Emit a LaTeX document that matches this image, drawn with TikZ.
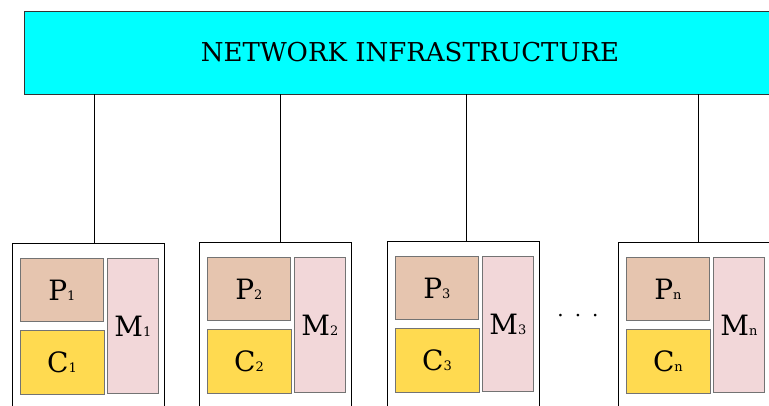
\documentclass[tikz,border=0pt]{standalone}
\usepackage{fontspec}
\setmainfont{DejaVu Serif}
\usepackage{xcolor}
\usepackage{tikz}
\usetikzlibrary{positioning}
\definecolor{netcyan}{RGB}{0,255,255}
\definecolor{procfill}{RGB}{230,197,175}
\definecolor{cachefill}{RGB}{255,218,80}
\definecolor{memfill}{RGB}{242,215,217}
\tikzset{node distance=8pt,
         netbox/.style={draw=black!80, line width=0.8pt, fill=netcyan, minimum width=772pt, minimum height=83pt, font=\fontsize{26}{30}\selectfont},
         hostbox/.style={draw, line width=1pt, minimum width=152pt, minimum height=175pt, anchor=north west},
         unit/.style={draw=black!55, line width=0.9pt, inner sep=0pt, font=\fontsize{28}{32}\selectfont},
         proc/.style={unit, fill=procfill, minimum width=83pt, minimum height=63pt},
         cache/.style={unit, fill=cachefill, minimum width=84pt, minimum height=64pt},
         mem/.style={unit, fill=memfill, minimum width=51pt, minimum height=135pt},
         link/.style={draw, line width=1pt},
         }
\newcommand{\lbl}[1]{{\fontsize{13}{13}\selectfont #1}}

\begin{document}
\begin{tikzpicture}[x=1pt, y=-1pt]
    \clip (0,0) rectangle (769,405);
    \node[netbox] (net) at (410,52.5) {NETWORK INFRASTRUCTURE};

    \node[hostbox] (h1) at (12,243) {};
    \node[proc, below right=15pt and 8pt of h1.north west] (p1) {P\lbl{1}};
    \node[cache, below=8pt of p1] (c1) {C\lbl{1}};
    \node[mem, right=3pt of p1.north east, anchor=north west] (m1) {M\lbl{1}};

    \node[hostbox] (h2) at (199,242) {};
    \node[proc, below right=15pt and 8pt of h2.north west] (p2) {P\lbl{2}};
    \node[cache, below=8pt of p2] (c2) {C\lbl{2}};
    \node[mem, right=3pt of p2.north east, anchor=north west] (m2) {M\lbl{2}};

    \node[hostbox] (h3) at (387,241) {};
    \node[proc, below right=15pt and 8pt of h3.north west] (p3) {P\lbl{3}};
    \node[cache, below=8pt of p3] (c3) {C\lbl{3}};
    \node[mem, right=3pt of p3.north east, anchor=north west] (m3) {M\lbl{3}};

    \node[font=\fontsize{20}{20}\selectfont] (dots) at (578,318) {·\hspace{11pt}·\hspace{11pt}·};

    \node[hostbox] (h4) at (618,242) {};
    \node[proc, below right=15pt and 8pt of h4.north west] (p4) {P\lbl{n}};
    \node[cache, below=8pt of p4] (c4) {C\lbl{n}};
    \node[mem, right=3pt of p4.north east, anchor=north west] (m4) {M\lbl{n}};

    \draw[link] ([xshift=6pt]h1.north) -- ([xshift=6pt]h1.north |- net.south);
    \draw[link] ([xshift=5pt]h2.north) -- ([xshift=5pt]h2.north |- net.south);
    \draw[link] ([xshift=3pt]h3.north) -- ([xshift=3pt]h3.north |- net.south);
    \draw[link] ([xshift=4pt]h4.north) -- ([xshift=4pt]h4.north |- net.south);
\end{tikzpicture}
\end{document}
